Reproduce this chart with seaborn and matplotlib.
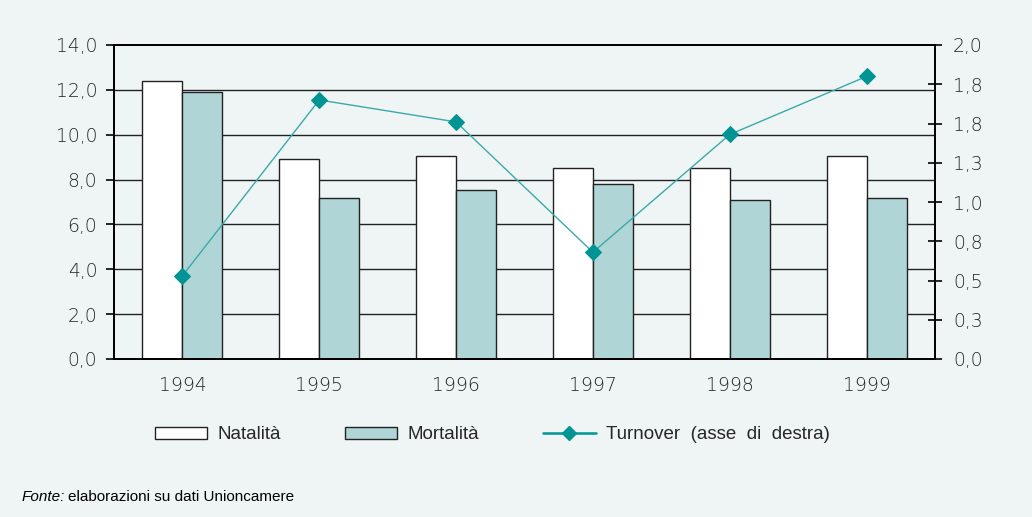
import numpy as np
import pandas as pd
import matplotlib.pyplot as plt
import matplotlib.patches as mpatches
from matplotlib.lines import Line2D
import seaborn as sns

BG       = "#eff5f5"
MORT_COL = "#b0d5d6"
TEAL     = "#009494"
LINE_COL = "#3aa9a9"
TXT      = "#262626"

YEARS      = ["1994", "1995", "1996", "1997", "1998", "1999"]
NATALITA   = [12.4, 8.9, 9.05, 8.5, 8.5, 9.05]
MORTALITA  = [11.9, 7.2, 7.55, 7.8, 7.1, 7.2]
TURNOVER   = [0.53, 1.65, 1.51, 0.68, 1.43, 1.80]

LEFT_TICKS   = [0, 2, 4, 6, 8, 10, 12, 14]
LEFT_LABELS  = ["0,0", "2,0", "4,0", "6,0", "8,0", "10,0", "12,0", "14,0"]
RIGHT_TICKS  = [0, 0.25, 0.5, 0.75, 1.0, 1.25, 1.5, 1.75, 2.0]
RIGHT_LABELS = ["0,0", "0,3", "0,5", "0,8", "1,0", "1,3", "1,8", "1,8", "2,0"]

sns.set_style("white")
plt.rcParams["font.family"] = ["DejaVu Sans"]
TICK_FONT = dict(fontsize=13.5, color=TXT, fontweight="light")
NARROW = ["Liberation Sans Narrow", "Liberation Sans"]

df = pd.DataFrame({
    "anno":  YEARS * 2,
    "valore": NATALITA + MORTALITA,
    "serie": ["Natalità"] * len(YEARS) + ["Mortalità"] * len(YEARS),
})

fig = plt.figure(figsize=(10.32, 5.17), dpi=100, facecolor=BG)
ax = fig.add_axes([114 / 1032, 1 - 359 / 517, (935 - 114) / 1032, (359 - 45) / 517])
ax.set_facecolor(BG)

# horizontal grid on the left-axis ticks
for y in LEFT_TICKS[1:-1]:
    ax.axhline(y, color="#222222", lw=1.0, zorder=0)

sns.barplot(data=df, x="anno", y="valore", hue="serie",
            palette={"Natalità": "white", "Mortalità": MORT_COL},
            width=0.585, gap=0, edgecolor="#222222", linewidth=1.0,
            saturation=1, legend=False, ax=ax, zorder=2)

ax.set_xlim(-0.5, 5.5)
ax.set_ylim(0, 14)
ax.set_yticks(LEFT_TICKS)
ax.set_yticklabels(LEFT_LABELS, **TICK_FONT)
ax.set_xticks(range(len(YEARS)))
ax.set_xticklabels(YEARS, **TICK_FONT)
ax.set_xticks(np.arange(-0.5, 6, 1), minor=True)
ax.tick_params(axis="x", which="major", length=0, pad=12)
ax.tick_params(axis="x", which="minor", length=6, width=1.2, color="black", direction="out")
ax.tick_params(axis="y", length=6, width=1.2, color="black", direction="out", pad=6)
ax.set_xlabel("")
ax.set_ylabel("")
for s in ax.spines.values():
    s.set_color("black")
    s.set_linewidth(1.3)

ax2 = ax.twinx()
sns.lineplot(x=np.arange(len(YEARS)), y=TURNOVER, ax=ax2, color=LINE_COL, lw=1.0,
             marker="D", markersize=8, markerfacecolor=TEAL, markeredgecolor=TEAL, zorder=5)
ax2.set_ylim(0, 2)
ax2.set_yticks(RIGHT_TICKS)
ax2.set_yticklabels(RIGHT_LABELS, **TICK_FONT)
ax2.tick_params(axis="y", length=10, width=1.2, color="black", direction="inout", pad=8)
ax2.set_xlim(-0.5, 5.5)
for s in ax2.spines.values():
    s.set_color("black")
    s.set_linewidth(1.3)

handles = [
    mpatches.Patch(facecolor="white", edgecolor="#222222", lw=1.0, label="Natalità"),
    mpatches.Patch(facecolor=MORT_COL, edgecolor="#222222", lw=1.0, label="Mortalità"),
    Line2D([0], [0], color=TEAL, lw=1.8, marker="D", markersize=7,
           markerfacecolor=TEAL, label="Turnover  (asse  di  destra)"),
]
fig.legend(handles=handles, loc="center", bbox_to_anchor=(0.477, 0.159), ncol=3,
           frameon=False, handlelength=2.8, handleheight=0.6,
           handletextpad=0.55, columnspacing=3.4,
           prop={"family": NARROW, "size": 13.5})

fig.text(22 / 1032, 1 - 497 / 517, "Fonte:", fontstyle="italic", fontsize=11,
         family=NARROW, va="center", color="black")
fig.text(68 / 1032, 1 - 497 / 517, "elaborazioni su dati Unioncamere", fontsize=11,
         family=NARROW, va="center", color="black")

fig.savefig("out.png", dpi=100, facecolor=BG)
